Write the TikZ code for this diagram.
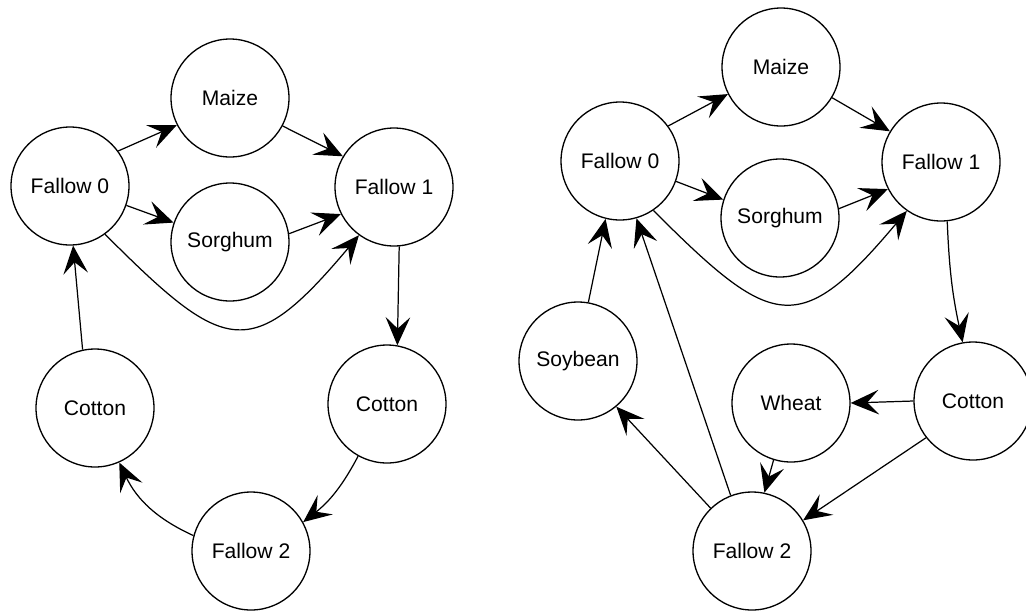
\documentclass[tikz,border=0pt]{standalone}
\usepackage{fontspec}
\setmainfont{Liberation Sans}
\usetikzlibrary{arrows.meta}

\tikzset{
    crop/.style  = {circle, draw=black, line width=0.75pt, minimum size=2.36cm, inner sep=0pt,
                    font=\fontsize{12}{14}\selectfont},
    trans/.style = {-{Stealth[length=16pt, width=14pt, inset=6.5pt]}, line width=0.7pt, draw=black}
}

\begin{document}
\begin{tikzpicture}[x=0.02cm, y=0.02cm]
    \useasboundingbox (0,0) rectangle (1026,-613);
    % left rotation
    \node[crop] (lf0)   at (70,-186)  {Fallow 0};
    \node[crop] (lmaize) at (230,-98) {Maize};
    \node[crop] (lsorg) at (230,-242) {Sorghum};
    \node[crop] (lf1)   at (394,-187) {Fallow 1};
    \node[crop] (lcotr) at (387,-404) {Cotton};
    \node[crop] (lf2)   at (251,-551) {Fallow 2};
    \node[crop] (lcotl) at (95,-408)  {Cotton};
    \draw[trans] (lf0.36) -- (lmaize.207);
    \draw[trans] (lf0.-19) -- (lsorg.161);
    \draw[trans] (lf0.-54) to[out=-45, in=-130, looseness=1.7] (lf1.-126);
    \draw[trans] (lmaize.-28) -- (lf1.149);
    \draw[trans] (lsorg.8) -- (lf1.207);
    \draw[trans] (lf1.-85) -- (lcotr.80);
    \draw[trans] (lcotr.-119) to[bend left=12] (lf2.29);
    \draw[trans] (lf2.165) to[bend left=20] (lcotl.-66);
    \draw[trans] (lcotl.102) -- (lf0.-87);
    % right rotation
    \node[crop] (rf0)    at (620,-161) {Fallow 0};
    \node[crop] (rmaize) at (781,-67)  {Maize};
    \node[crop] (rsorg)  at (780,-218) {Sorghum};
    \node[crop] (rf1)    at (941,-162) {Fallow 1};
    \node[crop] (rcot)   at (973,-401) {Cotton};
    \node[crop] (rwheat) at (791,-403) {Wheat};
    \node[crop] (rf2)    at (752,-551) {Fallow 2};
    \node[crop] (rsoy)   at (578,-361) {Soybean};
    \draw[trans] (rf0.36) -- (rmaize.207);
    \draw[trans] (rf0.-20) -- (rsorg.162);
    \draw[trans] (rf0.-56) to[out=-45, in=-130, looseness=1.7] (rf1.-125);
    \draw[trans] (rmaize.-31) -- (rf1.149);
    \draw[trans] (rsorg.9) -- (rf1.207);
    \draw[trans] (rf1.-84) to[bend right=5] (rcot.100);
    \draw[trans] (rcot.180) -- (rwheat.0);
    \draw[trans] (rcot.218) -- (rf2.31);
    \draw[trans] (rwheat.-107) -- (rf2.78);
    \draw[trans] (rf2.134) -- (rsoy.-50);
    \draw[trans] (rf2.111) -- (rf0.-74);
    \draw[trans] (rsoy.80) -- (rf0.-104);
\end{tikzpicture}
\end{document}
